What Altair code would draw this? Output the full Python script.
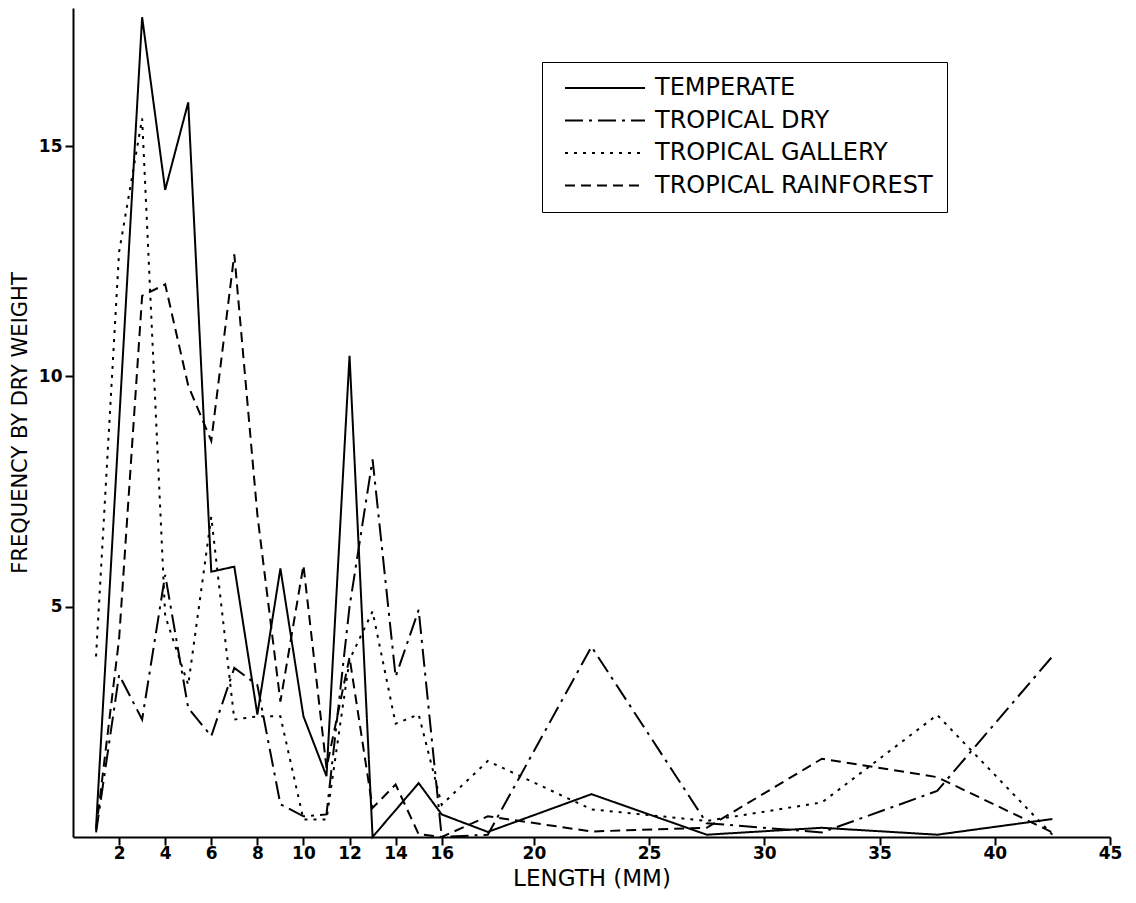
import altair as alt
import pandas as pd

SERIES = ["TEMPERATE", "TROPICAL DRY", "TROPICAL GALLERY", "TROPICAL RAINFOREST"]
DASHES = [[1, 0], [18, 6, 3, 6], [3, 6], [10, 6]]
WIDTHS = [2, 2, 3, 2]

temperate_x = [1, 3, 4, 5, 6, 7, 8, 9, 10, 11, 12, 13, 15, 16, 18, 22.5, 27.5, 32.5, 37.5, 42.5]
temperate_y = [0.2, 17.8, 14.05, 15.95, 5.76, 5.87, 2.66, 5.83, 2.62, 1.32, 10.45, 0.0, 1.17, 0.49, 0.11, 0.93, 0.05, 0.2, 0.05, 0.39]

dry_x = [1, 2, 3, 4, 5, 6, 7, 8, 9, 10, 11, 12, 13, 14, 15, 16, 18, 22.5, 27.5, 32.5, 37.5, 42.5]
dry_y = [0.1, 3.52, 2.55, 5.69, 2.8, 2.19, 3.67, 3.3, 0.71, 0.45, 0.49, 5.0, 8.2, 3.48, 4.93, 0.0, 0.05, 4.13, 0.3, 0.1, 1.0, 3.92]

gallery_x = [1, 2, 3, 4, 5, 6, 7, 8, 9, 10, 11, 12, 13, 14, 15, 16, 18, 22.5, 27.5, 32.5, 37.5, 42.5]
gallery_y = [3.92, 12.7, 15.6, 4.8, 3.3, 6.95, 2.55, 2.62, 2.62, 0.38, 0.38, 3.85, 4.9, 2.46, 2.66, 0.7, 1.65, 0.6, 0.35, 0.75, 2.65, 0.05]

rain_x = [1, 2, 3, 4, 5, 6, 7, 8, 9, 10, 11, 12, 13, 14, 15, 16, 18, 22.5, 27.5, 32.5, 37.5, 42.5]
rain_y = [0.15, 4.3, 11.75, 12.0, 9.8, 8.6, 12.65, 7.0, 2.94, 5.9, 1.5, 3.9, 0.63, 1.14, 0.06, 0.0, 0.45, 0.12, 0.2, 1.7, 1.3, 0.1]

x_ticks = [2, 4, 6, 8, 10, 12, 14, 16, 20, 25, 30, 35, 40, 45]
y_ticks = [5, 10, 15]

rows = []
for name, xs, ys in [
    (SERIES[0], temperate_x, temperate_y),
    (SERIES[1], dry_x, dry_y),
    (SERIES[2], gallery_x, gallery_y),
    (SERIES[3], rain_x, rain_y),
]:
    for x, y in zip(xs, ys):
        rows.append({"series": name, "length": x, "freq": y})
df = pd.DataFrame(rows)

FONT = "DejaVu Sans"

chart = (
    alt.Chart(df)
    .mark_line(color="black")
    .encode(
        x=alt.X(
            "length:Q",
            scale=alt.Scale(domain=[0, 45], nice=False, zero=False),
            axis=alt.Axis(
                values=x_ticks,
                title="LENGTH (MM)",
                grid=False,
                labelPadding=0,
                titlePadding=6,
                titleFontSize=23,
                labelFlush=False,
            ),
        ),
        y=alt.Y(
            "freq:Q",
            scale=alt.Scale(domain=[0, 18], nice=False),
            axis=alt.Axis(
                values=y_ticks,
                title="FREQUENCY BY DRY WEIGHT",
                grid=False,
                labelPadding=3,
                titlePadding=8,
                titleFontSize=21,
            ),
        ),
        strokeWidth=alt.StrokeWidth(
            "series:N",
            scale=alt.Scale(domain=SERIES, range=WIDTHS),
            legend=None,
        ),
        strokeDash=alt.StrokeDash(
            "series:N",
            scale=alt.Scale(domain=SERIES, range=DASHES),
            legend=alt.Legend(
                title=None,
                orient="none",
                legendX=469,
                legendY=54,
                symbolType="stroke",
                symbolSize=6400,
                symbolStrokeWidth=2,
                symbolStrokeColor="black",
                clipHeight=24,
                rowPadding=8.5,
                padding=14,
                symbolOffset=8,
                labelOffset=9,
                labelFont=FONT,
                labelFontSize=24,
                labelColor="black",
                labelLimit=0,
                strokeColor="black",
                fillColor="white",
            ),
        ),
    )
    .properties(
        width=1037,
        height=829,
        autosize=alt.AutoSizeParams(type="none"),
        padding={"left": 65, "top": 0, "right": 16, "bottom": 56},
    )
    .configure_view(stroke=None)
    .configure_axis(
        domainColor="black",
        domainWidth=2,
        tickColor="black",
        tickWidth=2,
        tickSize=8,
        labelFont=FONT,
        labelFontSize=17,
        labelFontWeight="bold",
        labelColor="black",
        titleFont=FONT,
        titleFontWeight="normal",
        titleColor="black",
    )
)

chart.save("out.html", embed_options={"renderer": "svg", "actions": False})
